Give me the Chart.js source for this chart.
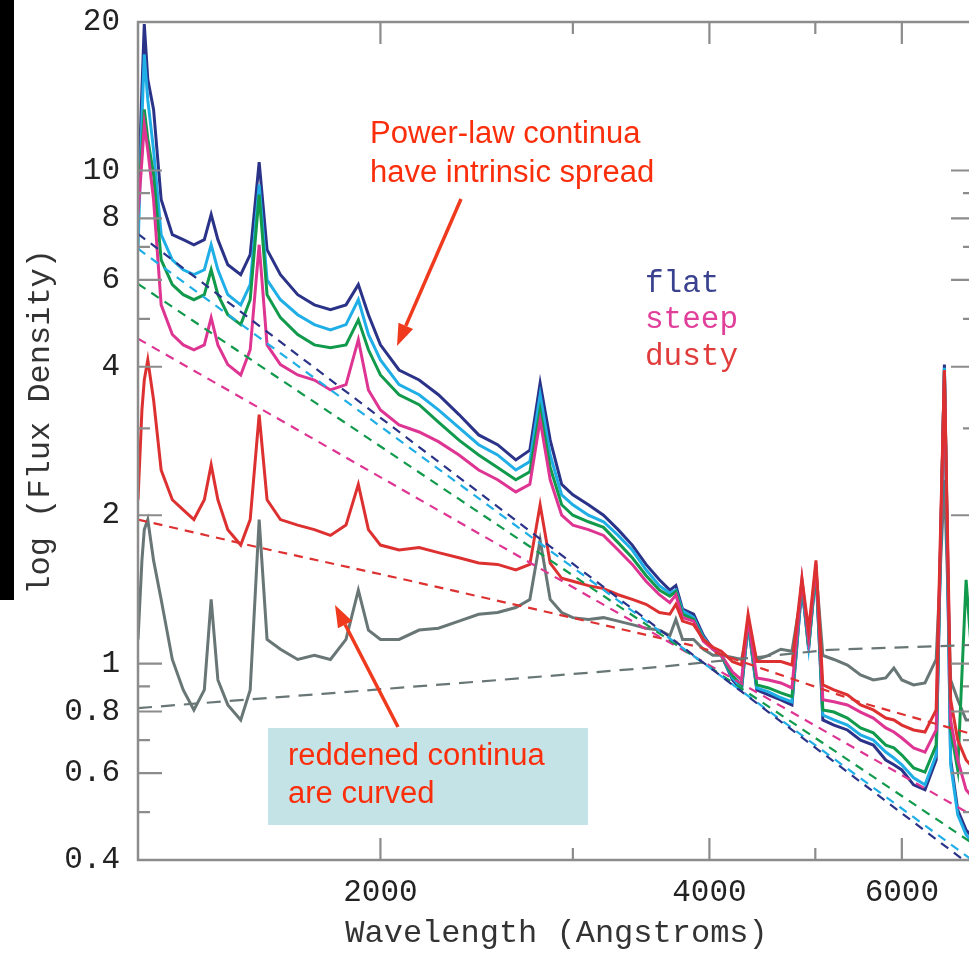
<!DOCTYPE html>
<html><head><meta charset="utf-8">
<script src="https://cdn.jsdelivr.net/npm/chart.js@4.4.1/dist/chart.umd.min.js"></script>
<style>html,body{margin:0;padding:0;overflow:hidden;background:#fff;width:969px;height:953px}canvas{display:block}</style>
</head><body><canvas id="c" width="1000" height="953"></canvas>
<script>
// ---- data ----
const wavelengths = [1200,1210,1216,1225,1240,1260,1290,1320,1350,1380,1400,1420,1450,1490,1520,1549,1575,1620,1680,1740,1800,1860,1909,1950,2000,2080,2170,2260,2360,2460,2560,2660,2740,2800,2860,2930,3000,3100,3200,3300,3400,3500,3600,3680,3727,3780,3869,3950,4030,4102,4200,4280,4340,4420,4530,4650,4760,4861,4930,5007,5080,5200,5350,5500,5650,5800,5900,6000,6150,6300,6450,6563,6650,6750,6870,7000];

const fluxFlat = [8.73,14.6,19.8,15.3,13.3,8.73,7.41,7.24,7.07,7.24,8.14,7.24,6.44,6.15,6.75,10.4,6.91,6.15,5.60,5.34,5.22,5.34,5.87,5.10,4.43,3.94,3.76,3.51,3.20,2.91,2.78,2.59,2.71,3.71,2.84,2.31,2.20,2.10,2.00,1.87,1.74,1.59,1.48,1.41,1.44,1.29,1.26,1.14,1.07,1.04,0.927,0.885,1.20,0.885,0.865,0.845,0.825,1.44,1.07,1.55,0.769,0.751,0.734,0.700,0.684,0.638,0.624,0.609,0.568,0.555,0.638,4.04,0.638,0.505,0.460,0.439];

const fluxBlue = [6.91,12.7,17.2,13.9,11.0,7.41,6.59,6.29,6.15,6.29,7.07,6.29,5.60,5.34,5.87,9.36,6.00,5.47,5.10,4.87,4.75,4.87,5.47,4.65,4.13,3.68,3.51,3.27,3.01,2.78,2.65,2.47,2.57,3.51,2.65,2.20,2.10,2.00,1.94,1.82,1.70,1.55,1.44,1.39,1.41,1.28,1.24,1.13,1.07,1.04,0.936,0.893,1.20,0.893,0.877,0.853,0.837,1.44,1.08,1.54,0.787,0.769,0.751,0.717,0.700,0.662,0.644,0.624,0.587,0.568,0.653,3.98,0.624,0.494,0.450,0.429];

const fluxGreen = [8.73,11.0,13.3,11.6,9.81,6.59,5.87,5.60,5.47,5.60,6.29,5.60,5.10,4.87,5.47,8.93,5.60,5.03,4.65,4.43,4.37,4.43,4.98,4.33,3.85,3.51,3.35,3.09,2.84,2.65,2.50,2.36,2.45,3.27,2.50,2.10,2.00,1.94,1.89,1.76,1.64,1.51,1.41,1.37,1.40,1.26,1.23,1.12,1.07,1.04,0.945,0.906,1.22,0.906,0.893,0.873,0.857,1.47,1.09,1.56,0.806,0.798,0.776,0.741,0.724,0.684,0.675,0.653,0.615,0.603,0.684,3.94,0.734,0.609,1.48,0.845];

const fluxSteep = [8.14,10.5,12.4,11.0,8.73,5.34,4.65,4.43,4.33,4.43,5.03,4.43,4.04,3.85,4.33,7.07,4.43,4.04,3.85,3.76,3.59,3.68,4.54,3.59,3.27,3.05,2.95,2.82,2.65,2.47,2.36,2.23,2.31,3.12,2.36,2.00,1.91,1.87,1.82,1.70,1.59,1.47,1.38,1.33,1.38,1.24,1.22,1.11,1.07,1.04,0.962,0.927,1.23,0.936,0.927,0.914,0.893,1.48,1.12,1.59,0.845,0.837,0.825,0.798,0.776,0.741,0.727,0.707,0.675,0.662,0.734,3.91,0.769,0.638,0.555,0.529];

const fluxDusty = [2.15,3.27,3.76,4.13,3.43,2.47,2.15,2.05,1.96,2.15,2.53,2.15,1.87,1.74,1.96,3.20,2.15,1.96,1.91,1.87,1.82,1.91,2.31,1.87,1.74,1.70,1.72,1.68,1.64,1.60,1.59,1.55,1.59,2.10,1.60,1.49,1.47,1.44,1.42,1.38,1.35,1.32,1.27,1.26,1.32,1.22,1.20,1.12,1.08,1.06,1.01,0.994,1.26,1.01,1.01,1.01,0.994,1.49,1.17,1.62,0.906,0.885,0.865,0.825,0.806,0.776,0.769,0.751,0.734,0.727,0.806,3.94,0.845,0.700,0.638,0.609];

const fluxVeryDusty = [1.12,1.62,1.87,1.96,1.62,1.35,1.02,0.885,0.806,0.885,1.35,0.927,0.825,0.769,0.885,1.96,1.12,1.07,1.02,1.04,1.02,1.12,1.41,1.17,1.12,1.12,1.17,1.18,1.22,1.26,1.27,1.30,1.35,1.78,1.35,1.27,1.24,1.23,1.24,1.22,1.20,1.18,1.17,1.14,1.23,1.12,1.12,1.07,1.04,1.04,1.03,1.02,1.17,1.02,1.04,1.07,1.06,1.41,1.12,1.55,1.04,1.02,0.994,0.949,0.927,0.936,0.980,0.927,0.906,0.914,1.02,2.36,0.927,0.845,0.769,0.769];

// continuum fits (dashed)
const plLambda = [1200, 7000];
const plFlat  = [7.44, 0.384];
const plBlue  = [6.94, 0.396];
const plGreen = [5.89, 0.429];
const plSteep = [4.56, 0.489];
const dustyContLambda = [1200,1550,2080,2855,3920,5520,7000];
const dustyCont       = [1.96,1.72,1.49,1.27,1.08,0.833,0.717];
const veryDustyContLambda = [1200,1770,2570,3600,5150,7000];
const veryDustyCont       = [0.813,0.869,0.927,0.985,1.067,1.092];

// axis ticks
const xTickValues = [2000,3000,4000,5000,6000];
const xTickLabels = [2000,4000,6000];
const yTickValues = [0.4,0.5,0.6,0.7,0.8,0.9,1,2,3,4,5,6,7,8,9,10,20];
const yTickLabels = [0.4,0.6,0.8,1,2,4,6,8,10,20];

// ---- styling ----
const C = {flat:'#2b3388', blue:'#20aee6', green:'#119a4c', steep:'#de3593', dusty:'#dd3131', gray:'#687675'};
const MONO = '"Liberation Mono", "DejaVu Sans Mono", monospace';
const SANS = '"Liberation Sans", Arial, sans-serif';

function pts(xs, ys){ return xs.map((x,i)=>({x:x, y:ys[i]})); }
function spec(label, ys, color, order){
  return {label, data: pts(wavelengths, ys), borderColor: color, borderWidth: 3, pointRadius: 0, tension: 0, fill: false, order};
}
function dash(label, xs, ys, color, d){
  return {label, data: pts(xs, ys), borderColor: color, borderWidth: 2.2, borderDash: d || [9,7], pointRadius: 0, tension: 0, fill: false, order: 0};
}

const framePlugin = {
  id: 'frame',
  afterDraw(chart){
    const ctx = chart.ctx, a = chart.chartArea, xs = chart.scales.x, ys = chart.scales.y;
    ctx.save();
    ctx.fillStyle = '#000';
    ctx.fillRect(0, 0, 14, 600);
    ctx.strokeStyle = '#8c8c8c';
    ctx.lineWidth = 2.5;
    ctx.strokeRect(a.left, a.top, a.right - a.left, a.bottom - a.top);
    ctx.lineWidth = 2.2;
    ctx.beginPath();
    yTickValues.forEach(v => {
      const p = ys.getPixelForValue(v);
      const len = yTickLabels.includes(v) ? 24 : 12;
      ctx.moveTo(a.left, p); ctx.lineTo(a.left + len, p);
      ctx.moveTo(a.right, p); ctx.lineTo(a.right - len, p);
    });
    xTickValues.forEach(v => {
      const p = xs.getPixelForValue(v);
      const len = xTickLabels.includes(v) ? 22 : 12;
      ctx.moveTo(p, a.bottom); ctx.lineTo(p, a.bottom - len);
      ctx.moveTo(p, a.top); ctx.lineTo(p, a.top + len);
    });
    ctx.stroke();

    ctx.fillStyle = '#c4e3e6';
    ctx.fillRect(268, 728, 320, 97);
    ctx.fillStyle = '#fb2e0c';
    ctx.font = '31px ' + SANS;
    ctx.textAlign = 'left'; ctx.textBaseline = 'alphabetic';
    ctx.fillText('Power-law continua', 370, 143);
    ctx.fillText('have intrinsic spread', 370, 182);
    ctx.fillText('reddened continua', 288, 765);
    ctx.fillText('are curved', 288, 803);
    function arrow(x1,y1,x2,y2){
      const ang = Math.atan2(y2-y1, x2-x1), hl = 22, hw = 8;
      const bx = x2 - hl*Math.cos(ang), by = y2 - hl*Math.sin(ang);
      ctx.strokeStyle = '#ef3a1d'; ctx.fillStyle = '#ef3a1d'; ctx.lineWidth = 3.5;
      ctx.beginPath(); ctx.moveTo(x1,y1); ctx.lineTo(bx,by); ctx.stroke();
      ctx.beginPath();
      ctx.moveTo(x2,y2);
      ctx.lineTo(bx + hw*Math.sin(ang), by - hw*Math.cos(ang));
      ctx.lineTo(bx - hw*Math.sin(ang), by + hw*Math.cos(ang));
      ctx.closePath(); ctx.fill();
    }
    arrow(461, 199, 397, 346);
    arrow(398, 727, 335, 605);
    ctx.font = '31px ' + MONO;
    ctx.fillStyle = '#3a4290'; ctx.fillText('flat', 645, 292);
    ctx.fillStyle = '#e0409a'; ctx.fillText('steep', 645, 328);
    ctx.fillStyle = '#e03c3c'; ctx.fillText('dusty', 645, 365);
    ctx.restore();
  }
};

new Chart(document.getElementById('c'), {
  type: 'line',
  data: {
    datasets: [
      dash('flat continuum', plLambda, plFlat, C.flat),
      dash('blue continuum', plLambda, plBlue, C.blue),
      dash('green continuum', plLambda, plGreen, C.green),
      dash('steep continuum', plLambda, plSteep, C.steep),
      dash('dusty continuum', dustyContLambda, dustyCont, C.dusty),
      dash('very dusty continuum', veryDustyContLambda, veryDustyCont, C.gray, [14,9]),
      spec('dusty', fluxDusty, C.dusty, 1),
      spec('steep', fluxSteep, C.steep, 2),
      spec('green', fluxGreen, C.green, 3),
      spec('blue', fluxBlue, C.blue, 4),
      spec('flat', fluxFlat, C.flat, 5),
      spec('very dusty', fluxVeryDusty, C.gray, 6)
    ]
  },
  options: {
    responsive: false, animation: false, devicePixelRatio: 1,
    layout: {padding: {left: 0, top: 22, right: 25, bottom: 0}},
    plugins: {legend: {display: false}, tooltip: {enabled: false}},
    scales: {
      x: {
        type: 'logarithmic', position: 'bottom', min: 1200, max: 7000,
        afterBuildTicks: s => { s.ticks = xTickValues.map(v => ({value: v})); },
        afterFit: s => { s.height = 93; s.paddingLeft = 0; s.paddingRight = 0; },
        grid: {display: false, drawTicks: false}, border: {display: false},
        ticks: {autoSkip: false, maxRotation: 0, padding: 14, color: '#222',
          font: {family: MONO, size: 31},
          callback: v => xTickLabels.includes(v) ? String(v) : ''},
        title: {display: true, text: 'Wavelength (Angstroms)', color: '#333',
          font: {family: MONO, size: 32}, padding: {top: 0, bottom: 0}}
      },
      y: {
        type: 'logarithmic', position: 'left', min: 0.4, max: 20,
        afterBuildTicks: s => { s.ticks = yTickValues.map(v => ({value: v})); },
        afterFit: s => { s.width = 138; s.paddingTop = 0; s.paddingBottom = 0; },
        grid: {display: false, drawTicks: false}, border: {display: false},
        ticks: {autoSkip: false, padding: 18, color: '#222',
          font: {family: MONO, size: 31},
          callback: v => yTickLabels.includes(v) ? String(v) : ''},
        title: {display: true, text: '  log (Flux Density)', color: '#333',
          font: {family: MONO, size: 32}, padding: {top: 21, bottom: 0}}
      }
    }
  },
  plugins: [framePlugin]
});
</script></body></html>
